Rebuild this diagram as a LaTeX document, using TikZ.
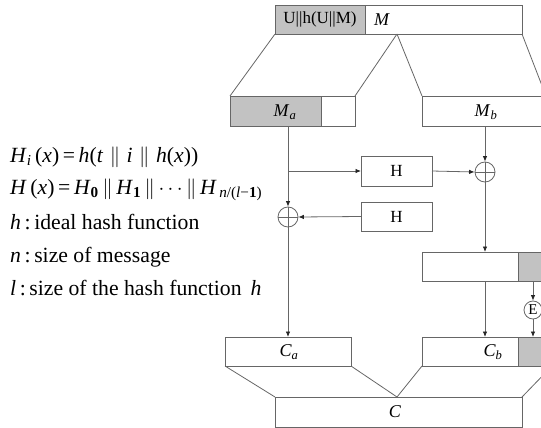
\documentclass[tikz,border=0pt]{standalone}
\usepackage{fontspec}
\setmainfont{Liberation Serif}
\usetikzlibrary{arrows.meta}
\definecolor{linec}{gray}{0.40}
\definecolor{grayf}{gray}{0.76}
\begin{document}
\begin{tikzpicture}[x=1pt,y=-1pt,
  ln/.style={draw=linec,line width=0.8pt},
  arr/.style={ln,-{Latex[length=5.5pt,width=4.5pt,color=black!85]}},
  box/.style={draw=linec,line width=0.8pt,minimum height=29pt,inner sep=0pt,outer sep=0pt,anchor=north west},
  gbox/.style={box,fill=grayf},
  lbl/.style={inner sep=0pt,font=\fontsize{18}{20}\selectfont},
  txt/.style={inner sep=0pt,anchor=base west,font=\fontsize{21.7}{25}\selectfont},
  xor/.style={circle,draw=linec,line width=0.8pt,minimum size=20pt,inner sep=0pt,
    path picture={\draw[linec,line width=0.8pt] (path picture bounding box.north) -- (path picture bounding box.south)
      (path picture bounding box.west) -- (path picture bounding box.east);}}]
\useasboundingbox (0,0) rectangle (541,428);
\clip (0,0) rectangle (541,428);
% top bar
\node[gbox,minimum width=90pt] (tg) at (275,5) {};
\node[box,minimum width=157pt] (tw) at (365,5) {};
\node[lbl,font=\fontsize{17}{20}\selectfont] (tgl) at (tg.center) {U||h(U||M)};
\node[lbl] (ml) at (382,20) {\textit{M}};
\coordinate (ap1) at (397,34);
% Ma, Mb
\node[gbox,minimum width=91pt,minimum height=30pt] (mag) at (230,96) {};
\node[box,minimum width=34pt,minimum height=30pt] (maw) at (321,96) {};
\node[lbl] (mal) at (285,112) {\textit{M}\textsubscript{\textit{a}}};
\node[box,minimum width=124pt,minimum height=30pt] (mb) at (422,96) {};
\node[lbl] (mbl) at (486,112) {\textit{M}\textsubscript{\textit{b}}};
% H boxes and xors
\node[box,minimum width=71pt,minimum height=30pt,font=\fontsize{17}{20}\selectfont] (h1) at (361,156) {H};
\node[box,minimum width=71pt,minimum height=29pt,font=\fontsize{17}{20}\selectfont] (h2) at (361,202) {H};
\node[xor] (xl) at (288,217) {};
\node[xor] (xr) at (485,172) {};
% middle right box
\node[box,minimum width=96pt] (mid) at (422,252) {};
\node[gbox,minimum width=30pt] (midg) at (518,252) {};
\node[circle,draw=linec,line width=0.8pt,minimum size=18pt,inner sep=0pt,font=\fontsize{15}{17}\selectfont] (e) at (533,310) {E};
% C boxes
\node[box,minimum width=126pt] (ca) at (225,337) {};
\node[lbl] (cal) at (289,352) {\textit{C}\textsubscript{\textit{a}}};
\node[box,minimum width=96pt] (cb) at (422,337) {};
\node[gbox,minimum width=34pt] (cbg) at (518,337) {};
\node[lbl] (cbl) at (493,352) {\textit{C}\textsubscript{\textit{b}}};
\node[box,minimum width=247pt,minimum height=30pt] (c) at (275,397) {};
\node[lbl] (cl) at (395,412) {\textit{C}};
\coordinate (ap2) at (397,397);
% trapezoid lines
\draw[ln] (tg.south west) -- (mag.north west);
\draw[ln] (ap1) -- (maw.north east);
\draw[ln] (ap1) -- (mb.north west);
\draw[ln] (tw.south east) -- (mb.north east);
\draw[ln] (ca.south west) -- (c.north west);
\draw[ln] (ca.south east) -- (ap2);
\draw[ln] (cb.south west) -- (ap2);
\draw[ln] (c.north east) -- (cbg.south east);
% arrows
\draw[arr] (mag.south -| xl) -- (xl.north);
\coordinate (br) at (288,171);
\draw[arr] (br) -- (h1.west);
\draw[arr] (h1.east) -- (xr.west);
\draw[arr] (mb.south -| xr) -- (xr.north);
\draw[arr] (h2.west) -- (xl.east);
\draw[arr] (xl.south) -- (ca.north -| xl);
\draw[arr] (xr.south) -- (mid.north -| xr);
\draw[arr] (mid.south -| xr) -- (cb.north -| xr);
\draw[arr] (midg.south -| e) -- (e.north);
\draw[arr] (e.south) -- (cbg.north -| e);
% legend text
\node[txt] (t1) at (10,162) {\textit{H}\textsubscript{\textit{i}}\,(\textit{x})\,=\,\textit{h}(\textit{t}\hspace{0.3em}$\|$\hspace{0.3em}\textit{i}\hspace{0.3em}$\|$\hspace{0.3em}\textit{h}(\textit{x}))};
\node[txt] (t2) at (10,194) {\textit{H}\,(\textit{x})\,=\,\textit{H}\textsubscript{\textbf{0}}\,$\|$\,\textit{H}\textsubscript{\textbf{1}}\,$\|\cdots\|$\,\textit{H}\textsubscript{\,\textit{n}/(\textit{l}−\textbf{1})}};
\node[txt] (t3) at (10,229) {\textit{h}\,:\,ideal hash function};
\node[txt] (t4) at (10,262) {\textit{n}\,:\,size of message};
\node[txt] (t5) at (10,295) {\textit{l}\,:\,size of the hash function \,\textit{h}};
\end{tikzpicture}
\end{document}
